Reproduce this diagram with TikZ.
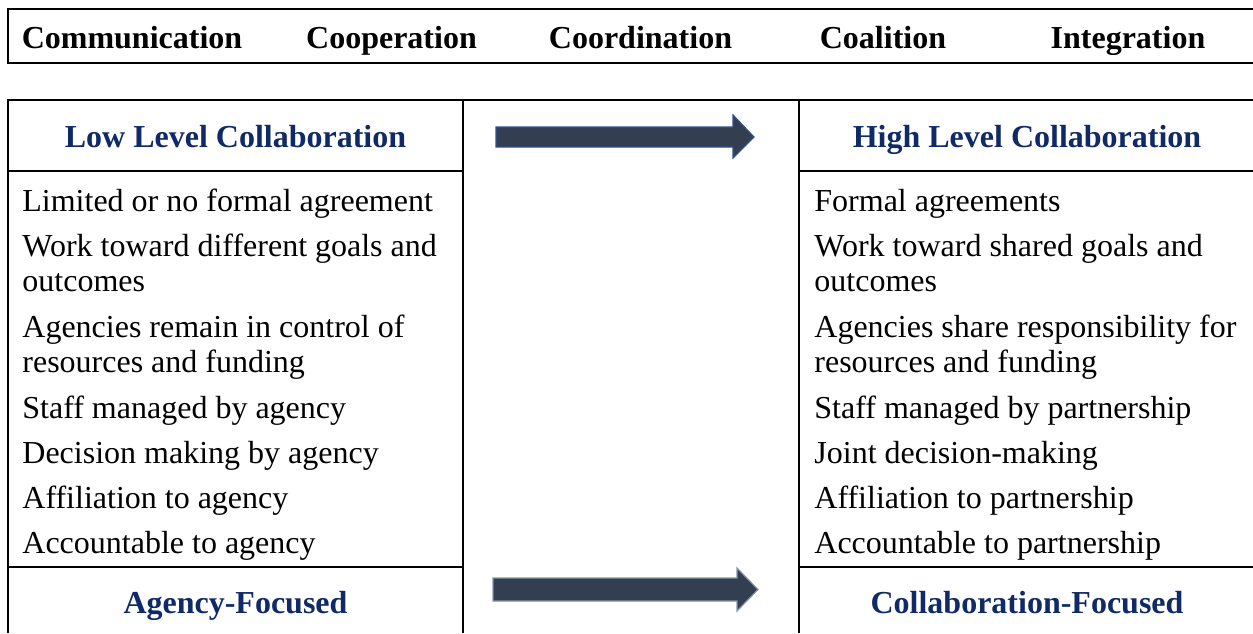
\documentclass[tikz,border=0pt]{standalone}
\usepackage{fontspec}
\setmainfont{Liberation Serif}
\definecolor{tbNavy}{HTML}{0F2A66}
\definecolor{tbSlate}{HTML}{333F50}
\definecolor{tbEdge}{HTML}{2F528F}
\definecolor{tbPale}{HTML}{8497B0}
\tikzset{
  rule/.style     = {line width=1pt, black},
  stage/.style    = {font=\fontsize{16}{18}\selectfont\bfseries, anchor=base, inner sep=0pt},
  colhead/.style  = {stage, tbNavy},
  item/.style     = {font=\fontsize{16}{17.75}\selectfont, anchor=base west,
                     align=left, inner sep=0pt},
  fatarrow/.style = {fill=tbSlate, draw=#1, line width=0.6pt, line join=miter},
}

\begin{document}
\begin{tikzpicture}[x=0.5pt,y=-0.5pt]
  \useasboundingbox (0,0) rectangle (1253,633);
  % stage strip
  \draw[rule] (1253,9) -- (8,9) -- (8,63) -- (1253,63);
  \node[stage] (comm)  at (132,48)   {Communication};
  \node[stage] (coop)  at (391.5,48) {Cooperation};
  \node[stage] (coord) at (640.5,48) {Coordination};
  \node[stage] (coal)  at (883,48)   {Coalition};
  \node[stage] (integ) at (1128,48)  {Integration};
  % table frame
  \draw[rule] (1253,100) -- (8,100) -- (8,633);
  \draw[rule] (463,100) -- (463,633);
  \draw[rule] (799,100) -- (799,633);
  \draw[rule] (8,171) -- (463,171);  \draw[rule] (799,171) -- (1253,171);
  \draw[rule] (8,567) -- (463,567);  \draw[rule] (799,567) -- (1253,567);
  % block arrows in the middle column
  \draw[fatarrow=tbEdge] (496,127) -- (733,127) -- (733,115) -- (754,137)
    -- (733,158) -- (733,147) -- (496,147) -- cycle;
  \draw[fatarrow=tbPale] (493,578) -- (737,578) -- (737,568) -- (758,589.5)
    -- (737,611) -- (737,601) -- (493,601) -- cycle;
  % headers and footers
  \node[colhead] (lowhead)  at (235.5,147) {Low Level Collaboration};
  \node[colhead] (highhead) at (1027,147)  {High Level Collaboration};
  \node[colhead] (lowfoot)  at (235.5,613) {Agency-Focused};
  \node[colhead] (highfoot) at (1027,613)  {Collaboration-Focused};
  % low level column (two-line items sit on their last baseline)
  \node[item] (lowA) at (22,211)   {Limited or no formal agreement};
  \node[item] (lowB) at (22,291.5) {Work toward different goals and\\outcomes};
  \node[item] (lowC) at (22,372.5) {Agencies remain in control of\\resources and funding};
  \node[item] (lowD) at (22,418)   {Staff managed by agency};
  \node[item] (lowE) at (22,463)   {Decision making by agency};
  \node[item] (lowF) at (22,508)   {Affiliation to agency};
  \node[item] (lowG) at (22,553)   {Accountable to agency};
  % high level column
  \node[item] (highA) at (814,211)   {Formal agreements};
  \node[item] (highB) at (814,291.5) {Work toward shared goals and\\outcomes};
  \node[item] (highC) at (814,372.5) {Agencies share responsibility for\\resources and funding};
  \node[item] (highD) at (814,418)   {Staff managed by partnership};
  \node[item] (highE) at (814,463)   {Joint decision-making};
  \node[item] (highF) at (814,508)   {Affiliation to partnership};
  \node[item] (highG) at (814,553)   {Accountable to partnership};
\end{tikzpicture}
\end{document}
